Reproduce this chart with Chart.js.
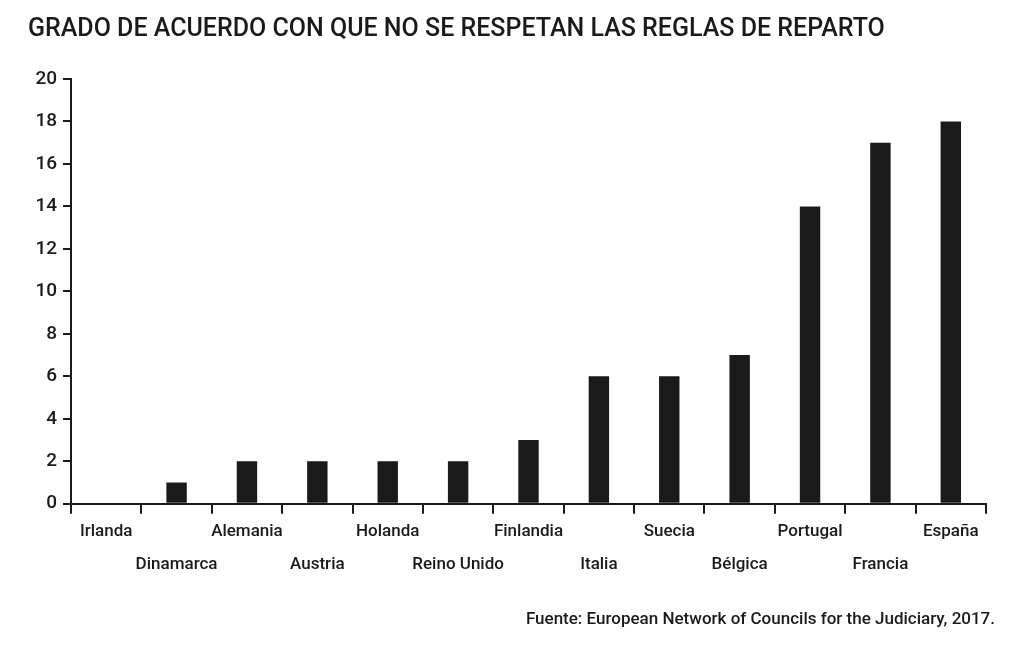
<!DOCTYPE html>
<html>
<head>
  <meta charset="utf-8" />
  <title>Grado de acuerdo</title>
  <script src="https://cdn.jsdelivr.net/npm/chart.js"></script>
  <style>
    html, body { margin: 0; padding: 0; background: #fff; }
    #wrap { width: 1012px; height: 650px; }
  </style>
</head>
<body>
  <div id="wrap"><canvas id="grafico"></canvas></div>

  <script>
    // Datos
    const paises = ['Irlanda', 'Dinamarca', 'Alemania', 'Austria', 'Holanda', 'Reino Unido',
      'Finlandia', 'Italia', 'Suecia', 'Bélgica', 'Portugal', 'Francia', 'España'];
    const valores = [0, 1, 2, 2, 2, 2, 3, 6, 6, 7, 14, 17, 18];
    const ticksY = [0, 2, 4, 6, 8, 10, 12, 14, 16, 18, 20];

    const titulo = 'GRADO DE ACUERDO CON QUE NO SE RESPETAN LAS REGLAS DE REPARTO';
    const fuente = 'Fuente: European Network of Councils for the Judiciary, 2017.';

    const FONT = "Roboto, 'DejaVu Sans', sans-serif";
    const COLOR = '#1a1a1a';

    // texto de la fuente abajo a la derecha
    const fuentePlugin = {
      id: 'fuente',
      afterDraw(chart) {
        const ctx = chart.ctx;
        ctx.save();
        ctx.font = '500 17px ' + FONT;
        ctx.fillStyle = COLOR;
        ctx.textAlign = 'right';
        ctx.textBaseline = 'middle';
        ctx.fillText(fuente, 995, 620);
        ctx.restore();
      }
    };

    const ctx = document.getElementById('grafico').getContext('2d');
    const chart = new Chart(ctx, {
      type: 'bar',
      data: {
        labels: paises,
        datasets: [{
          data: valores,
          backgroundColor: COLOR,
          borderWidth: 0,
          minBarLength: 1,
          categoryPercentage: 1,
          barPercentage: 0.29
        }]
      },
      options: {
        responsive: true,
        maintainAspectRatio: false,
        animation: false,
        layout: { padding: { left: 28, right: 26, top: 8, bottom: 68 } },
        plugins: {
          legend: { display: false },
          tooltip: { enabled: false },
          title: {
            display: true,
            text: titulo,
            align: 'start',
            color: COLOR,
            font: { family: FONT, size: 25, weight: '500' },
            padding: { top: 7, bottom: 34 }
          }
        },
        scales: {
          y: {
            min: 0,
            max: 20,
            afterBuildTicks(scale) {
              scale.ticks = ticksY.map(v => ({ value: v }));
            },
            afterFit(scale) { scale.width = 43; },
            border: { display: true, color: COLOR, width: 2 },
            grid: { drawOnChartArea: false, drawTicks: true, tickLength: 8, color: COLOR, lineWidth: 2 },
            ticks: {
              color: COLOR,
              padding: 6,
              font: { family: FONT, size: 19, weight: '500' }
            }
          },
          x: {
            offset: true,
            border: { display: true, color: COLOR, width: 2 },
            grid: { offset: true, drawOnChartArea: false, drawTicks: true, tickLength: 10, color: COLOR, lineWidth: 2 },
            ticks: {
              autoSkip: false,
              maxRotation: 0,
              minRotation: 0,
              color: COLOR,
              padding: 1,
              font: { family: FONT, size: 17, weight: '500', lineHeight: 1.95 },
              callback(value, index) {
                const p = paises[index];
                return index % 2 === 0 ? [p] : ['', p];
              }
            }
          }
        }
      },
      plugins: [fuentePlugin]
    });
  </script>
</body>
</html>
